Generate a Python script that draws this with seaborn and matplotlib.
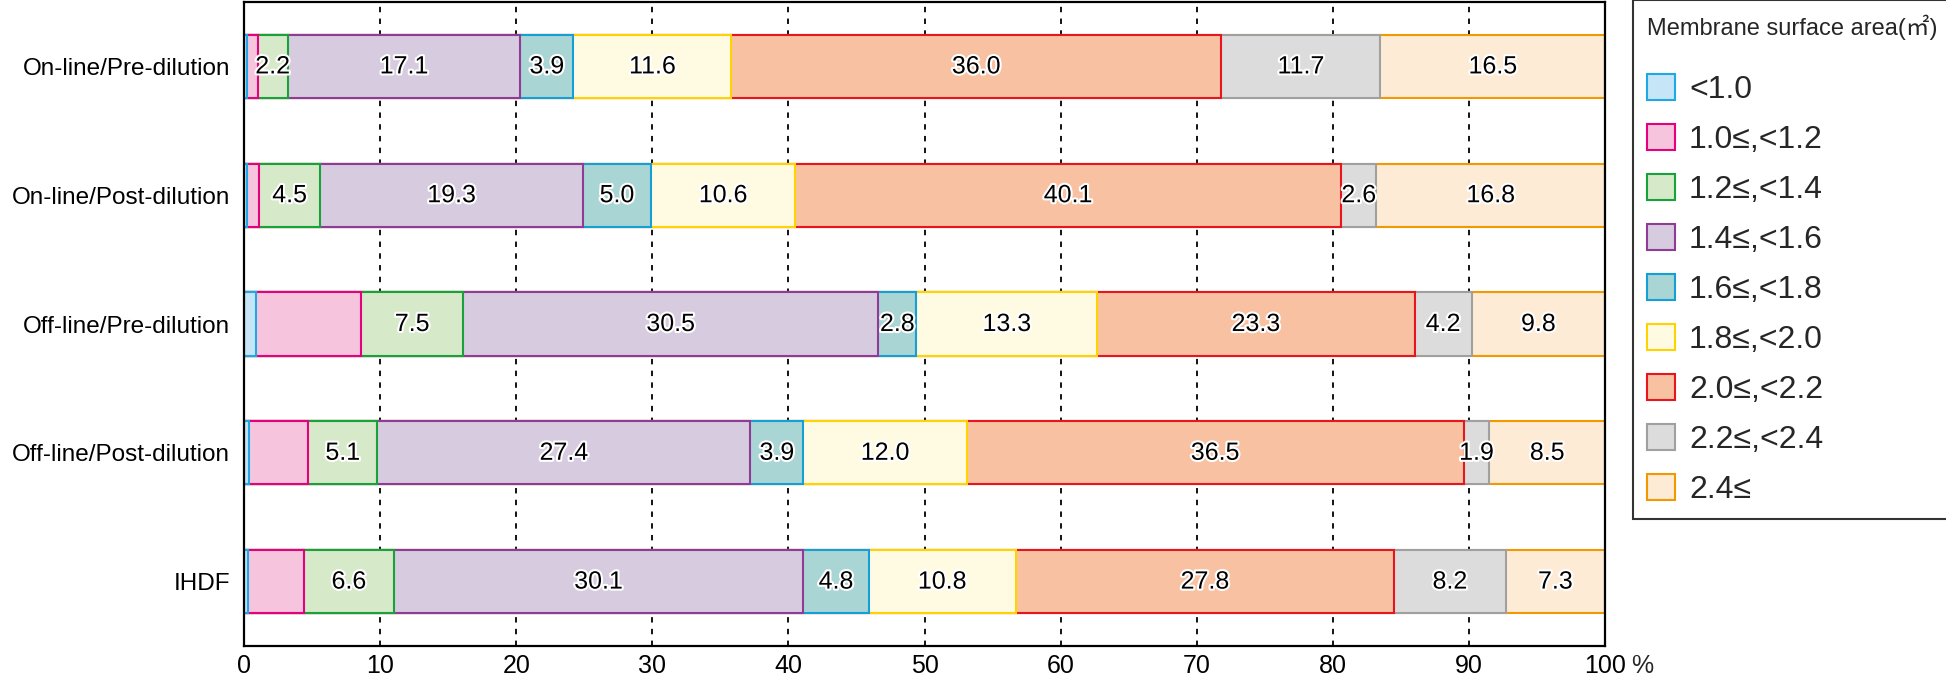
import numpy as np
import pandas as pd
import matplotlib
matplotlib.use('Agg')
import matplotlib.pyplot as plt
import matplotlib.patheffects as pe
from matplotlib.patches import Patch
import seaborn as sns

# modality rows, top to bottom
groups      = ['On-line/Pre-dilution', 'On-line/Post-dilution', 'Off-line/Pre-dilution',
               'Off-line/Post-dilution', 'IHDF']
categories  = ['<1.0', '1.0≤,<1.2', '1.2≤,<1.4', '1.4≤,<1.6', '1.6≤,<1.8',
               '1.8≤,<2.0', '2.0≤,<2.2', '2.2≤,<2.4', '2.4≤']

# percent per category, one list per row (first two)
online_pre   = [0.2, 0.8, 2.2, 17.1, 3.9, 11.6, 36.0, 11.7, 16.5]
online_post  = [0.2, 0.9, 4.5, 19.3, 5.0, 10.6, 40.1, 2.6, 16.8]
offline_pre  = [0.9, 7.7, 7.5, 30.5, 2.8, 13.3, 23.3, 4.2, 9.8]
offline_post = [0.4, 4.3, 5.1, 27.4, 3.9, 12.0, 36.5, 1.9, 8.5]
ihdf         = [0.3, 4.1, 6.6, 30.1, 4.8, 10.8, 27.8, 8.2, 7.3]

fills = ['#c6e6f8', '#f6c4dc', '#d6e9c9', '#d7cbe0', '#a9d6d4',
         '#fffbe3', '#f8c2a2', '#dcdcdc', '#feebd5']
edges = ['#1fa7e6', '#e5007f', '#17a23a', '#8f3b97', '#14a0d6',
         '#ffd300', '#e8141e', '#a0a0a0', '#f39800']

df = pd.DataFrame([online_pre, online_post, offline_pre, offline_post, ihdf],
                  index=groups, columns=categories)
cum = df.cumsum(axis=1)

font = ['Liberation Sans', 'Noto Sans CJK JP', 'DejaVu Sans']
sns.set_theme(style='white')
plt.rcParams['font.family'] = font

fig = plt.figure(figsize=(19.46, 6.76), dpi=100)
ax = fig.add_axes([0.1254, 0.0444, 0.6994, 0.9526])

# stacked bars: draw the cumulative totals from widest to narrowest
for i in range(len(categories) - 1, -1, -1):
    c = categories[i]
    sns.barplot(x=cum[c].values, y=groups, orient='h', color=fills[i], saturation=1,
                edgecolor=edges[i], linewidth=1.5, width=0.49, ax=ax, zorder=2)

# value labels (first two categories are not labelled)
for r, g in enumerate(groups):
    for i in range(2, len(categories)):
        v = df.loc[g, categories[i]]
        xc = cum.loc[g, categories[i]] - v / 2
        ax.text(xc, r, f'{v:.1f}', ha='center', va='center', fontsize=18, color='black',
                zorder=5, path_effects=[pe.withStroke(linewidth=3, foreground='white')])

ax.set_xlim(0, 100)
ax.set_ylim(4.5, -0.5)
ax.set_xticks(np.arange(0, 101, 10))
ax.set_xlabel('')
ax.set_ylabel('')
ax.tick_params(axis='both', length=0, colors='black')
ax.tick_params(axis='x', pad=6, labelsize=18)
ax.tick_params(axis='y', pad=10, labelsize=17.5)
ax.set_axisbelow(True)
ax.xaxis.grid(True, color='black', linestyle=(0, (3, 3.5)), linewidth=1.3)
ax.yaxis.grid(False)
for s in ax.spines.values():
    s.set_color('black')
    s.set_linewidth(1.6)
    s.set_visible(True)
ax.text(101.9, 4.56, '%', ha='left', va='top', fontsize=18, clip_on=False)

handles = [Patch(facecolor=fills[i], edgecolor=edges[i], linewidth=1.5) for i in range(len(categories))]
leg = fig.legend(handles, categories, title='Membrane surface area(㎡)', loc='upper left',
                 bbox_to_anchor=(1633 / 1946, 1.0), fontsize=23, title_fontsize=17,
                 frameon=True, fancybox=False, handlelength=0.85, handleheight=0.85,
                 labelspacing=0.6, handletextpad=0.45, borderpad=0.45, borderaxespad=0)
leg.get_frame().set_edgecolor('black')
leg.get_frame().set_linewidth(1.5)
leg._legend_box.align = 'left'
leg._legend_box.sep = 25

fig.savefig('out.png', dpi=100)
